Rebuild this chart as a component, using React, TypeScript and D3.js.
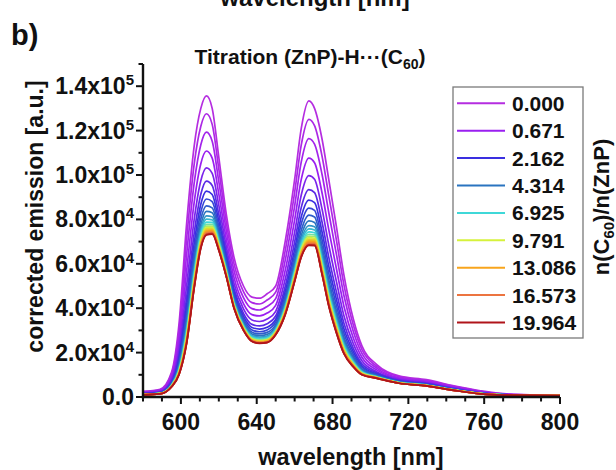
import React from "react";
import * as d3 from "d3";

// wavelength grid (nm)
const wavelengths = [580, 589, 595, 599, 603, 607, 610.5, 613.5, 616.5, 620, 624, 628, 633, 637.5, 641.5, 645.5, 650, 655, 660, 663.5, 667.5, 670.5, 674.5, 678, 682, 686, 691, 695.5, 703.5, 715, 729.5, 744, 758, 773, 800];

// corrected emission (units of 1e3 a.u.), one spectrum per titration step
const s00 = [2.5, 3.5, 11, 33, 78, 113, 130, 135.6, 130, 108, 82, 63, 50, 45, 44.5, 46.5, 50, 70, 98, 121, 133.4, 130, 116, 98, 77, 55, 35, 23, 14.5, 9.5, 7.8, 5, 2.8, 1.3, 0.8];
const s01 = [2.3, 3.2, 10.2, 30.1, 71.1, 104.9, 122.0, 127.6, 122.8, 102.7, 78.4, 60.1, 47.5, 42.5, 41.9, 43.7, 47.2, 65.8, 92.2, 113.6, 125.1, 122.2, 108.3, 90.8, 70.9, 50.5, 32.3, 21.4, 13.7, 9.1, 7.4, 4.8, 2.6, 1.2, 0.8];
const s02 = [2.1, 3.0, 9.3, 27.0, 63.9, 96.3, 113.6, 119.3, 115.2, 97.0, 74.7, 57.0, 44.8, 39.8, 39.2, 40.8, 44.3, 61.4, 86.0, 105.9, 116.4, 113.9, 100.1, 83.1, 64.5, 45.7, 29.4, 19.6, 12.9, 8.6, 7.1, 4.5, 2.4, 1.2, 0.8];
const s03 = [1.9, 2.7, 8.4, 23.9, 56.6, 87.7, 105.1, 110.8, 107.6, 91.4, 70.9, 53.9, 42.1, 37.1, 36.5, 37.8, 41.3, 56.9, 79.8, 98.0, 107.6, 105.5, 91.8, 75.4, 58.0, 40.9, 26.5, 17.9, 12.1, 8.2, 6.7, 4.2, 2.3, 1.1, 0.7];
const s04 = [1.7, 2.4, 7.6, 21.1, 50.1, 79.9, 97.4, 103.2, 100.7, 86.3, 67.5, 51.1, 39.7, 34.7, 34.0, 35.1, 38.6, 52.9, 74.2, 91.0, 99.7, 98.1, 84.5, 68.5, 52.2, 36.6, 23.9, 16.3, 11.3, 7.8, 6.4, 4.0, 2.1, 1.0, 0.7];
const s05 = [1.6, 2.2, 7.0, 18.9, 44.8, 73.7, 91.3, 97.2, 95.3, 82.2, 64.8, 48.9, 37.7, 32.7, 32.0, 33.0, 36.5, 49.7, 69.8, 85.4, 93.4, 92.1, 78.6, 63.0, 47.5, 33.2, 21.8, 15.0, 10.8, 7.5, 6.1, 3.8, 1.9, 1.0, 0.7];
const s06 = [1.5, 2.1, 6.5, 17.2, 41.0, 69.1, 86.8, 92.7, 91.2, 79.2, 62.8, 47.2, 36.3, 31.3, 30.6, 31.4, 34.9, 47.4, 66.4, 81.2, 88.7, 87.6, 74.2, 58.9, 44.1, 30.7, 20.3, 14.1, 10.3, 7.2, 5.9, 3.6, 1.8, 1.0, 0.7];
const s07 = [1.4, 1.9, 6.2, 15.9, 37.9, 65.5, 83.3, 89.2, 88.0, 76.8, 61.2, 45.9, 35.2, 30.2, 29.4, 30.2, 33.7, 45.5, 63.9, 78.0, 85.1, 84.1, 70.7, 55.7, 41.4, 28.7, 19.1, 13.4, 10.0, 7.1, 5.7, 3.5, 1.8, 0.9, 0.7];
const s08 = [1.3, 1.8, 5.9, 14.8, 35.3, 62.4, 80.2, 86.1, 85.2, 74.8, 59.9, 44.8, 34.2, 29.2, 28.4, 29.1, 32.6, 43.9, 61.6, 75.1, 81.9, 81.1, 67.8, 52.9, 39.0, 26.9, 18.0, 12.7, 9.7, 6.9, 5.6, 3.4, 1.7, 0.9, 0.6];
const s09 = [1.3, 1.8, 5.6, 13.9, 33.1, 59.8, 77.6, 83.6, 83.0, 73.1, 58.7, 43.9, 33.4, 28.4, 27.6, 28.2, 31.7, 42.6, 59.8, 72.8, 79.3, 78.6, 65.3, 50.6, 37.1, 25.5, 17.1, 12.2, 9.4, 6.8, 5.5, 3.3, 1.6, 0.9, 0.6];
const s10 = [1.2, 1.7, 5.4, 13.2, 31.4, 57.8, 75.6, 81.6, 81.2, 71.8, 57.8, 43.2, 32.7, 27.7, 27.0, 27.5, 31.0, 41.5, 58.3, 71.0, 77.2, 76.7, 63.4, 48.8, 35.6, 24.4, 16.5, 11.8, 9.2, 6.7, 5.4, 3.3, 1.6, 0.9, 0.6];
const s11 = [1.2, 1.6, 5.2, 12.6, 30.1, 56.2, 74.1, 80.1, 79.8, 70.7, 57.2, 42.6, 32.3, 27.3, 26.5, 27.0, 30.5, 40.7, 57.2, 69.6, 75.7, 75.2, 61.9, 47.4, 34.4, 23.5, 15.9, 11.5, 9.1, 6.6, 5.3, 3.2, 1.6, 0.9, 0.6];
const s12 = [1.1, 1.6, 5.1, 12.1, 29.0, 55.0, 72.9, 78.8, 78.7, 69.9, 56.6, 42.1, 31.9, 26.9, 26.1, 26.6, 30.1, 40.1, 56.3, 68.4, 74.4, 74.0, 60.7, 46.3, 33.5, 22.8, 15.5, 11.2, 9.0, 6.5, 5.3, 3.2, 1.5, 0.9, 0.6];
const s13 = [1.1, 1.6, 5.0, 11.8, 28.2, 53.9, 71.9, 77.8, 77.8, 69.2, 56.2, 41.8, 31.5, 26.5, 25.8, 26.2, 29.7, 39.5, 55.5, 67.5, 73.3, 73.0, 59.7, 45.4, 32.7, 22.2, 15.2, 11.0, 8.9, 6.5, 5.2, 3.2, 1.5, 0.8, 0.6];
const s14 = [1.1, 1.5, 4.9, 11.5, 27.5, 53.1, 71.0, 77.0, 77.0, 68.7, 55.8, 41.5, 31.3, 26.3, 25.5, 25.9, 29.4, 39.1, 54.9, 66.7, 72.5, 72.2, 58.9, 44.6, 32.1, 21.8, 14.9, 10.8, 8.8, 6.4, 5.2, 3.1, 1.5, 0.8, 0.6];
const s15 = [1.1, 1.5, 4.8, 11.2, 26.9, 52.4, 70.3, 76.3, 76.4, 68.2, 55.5, 41.2, 31.1, 26.1, 25.3, 25.7, 29.2, 38.8, 54.4, 66.1, 71.8, 71.5, 58.2, 44.0, 31.5, 21.4, 14.6, 10.7, 8.7, 6.4, 5.1, 3.1, 1.5, 0.8, 0.6];
const s16 = [1.1, 1.5, 4.8, 11.0, 26.3, 51.8, 69.7, 75.7, 75.8, 67.8, 55.2, 41.0, 30.9, 25.9, 25.1, 25.5, 29.0, 38.4, 54.0, 65.5, 71.1, 70.9, 57.6, 43.5, 31.1, 21.0, 14.4, 10.6, 8.7, 6.3, 5.1, 3.1, 1.5, 0.8, 0.6];
const s17 = [1.1, 1.5, 4.7, 10.8, 25.9, 51.2, 69.2, 75.2, 75.4, 67.5, 55.0, 40.8, 30.7, 25.7, 24.9, 25.3, 28.8, 38.2, 53.6, 65.0, 70.6, 70.4, 57.1, 43.0, 30.7, 20.7, 14.3, 10.5, 8.6, 6.3, 5.1, 3.1, 1.5, 0.8, 0.6];
const s18 = [1.0, 1.5, 4.7, 10.6, 25.5, 50.7, 68.7, 74.7, 74.9, 67.1, 54.8, 40.6, 30.5, 25.5, 24.8, 25.1, 28.6, 37.9, 53.2, 64.6, 70.1, 69.9, 56.7, 42.5, 30.3, 20.5, 14.1, 10.4, 8.6, 6.3, 5.1, 3.1, 1.4, 0.8, 0.6];
const s19 = [1.0, 1.4, 4.6, 10.5, 25.1, 50.3, 68.3, 74.3, 74.6, 66.9, 54.6, 40.5, 30.4, 25.4, 24.6, 25.0, 28.5, 37.7, 53.0, 64.2, 69.7, 69.5, 56.3, 42.2, 30.0, 20.3, 14.0, 10.3, 8.5, 6.3, 5.1, 3.0, 1.4, 0.8, 0.6];
const s20 = [1.0, 1.4, 4.6, 10.4, 24.9, 50.0, 68.0, 74.0, 74.3, 66.7, 54.4, 40.4, 30.3, 25.3, 24.5, 24.9, 28.4, 37.5, 52.7, 63.9, 69.3, 69.2, 56.0, 41.9, 29.8, 20.1, 13.8, 10.2, 8.5, 6.3, 5.0, 3.0, 1.4, 0.8, 0.6];
const s21 = [1.0, 1.4, 4.6, 10.3, 24.6, 49.7, 67.7, 73.7, 74.0, 66.5, 54.3, 40.3, 30.2, 25.2, 24.4, 24.7, 28.2, 37.4, 52.5, 63.6, 69.0, 68.9, 55.7, 41.6, 29.5, 19.9, 13.7, 10.1, 8.5, 6.2, 5.0, 3.0, 1.4, 0.8, 0.6];
const s22 = [1.0, 1.4, 4.5, 10.1, 24.3, 49.4, 67.4, 73.4, 73.7, 66.3, 54.2, 40.1, 30.1, 25.1, 24.3, 24.6, 28.1, 37.2, 52.3, 63.3, 68.7, 68.6, 55.4, 41.3, 29.3, 19.7, 13.6, 10.1, 8.4, 6.2, 5.0, 3.0, 1.4, 0.8, 0.6];
const s23 = [1.0, 1.4, 4.5, 10.1, 24.2, 49.2, 67.2, 73.2, 73.6, 66.1, 54.1, 40.1, 30.1, 25.1, 24.3, 24.6, 28.1, 37.1, 52.1, 63.2, 68.5, 68.4, 55.2, 41.2, 29.1, 19.6, 13.6, 10.0, 8.4, 6.2, 5.0, 3.0, 1.4, 0.8, 0.6];
const s24 = [1.0, 1.4, 4.5, 10.0, 24.0, 49.0, 67.0, 73.0, 73.4, 66.0, 54.0, 40.0, 30.0, 25.0, 24.2, 24.5, 28.0, 37.0, 52.0, 63.0, 68.3, 68.2, 55.0, 41.0, 29.0, 19.5, 13.5, 10.0, 8.4, 6.2, 5.0, 3.0, 1.4, 0.8, 0.6];

const spectra = [s00, s01, s02, s03, s04, s05, s06, s07, s08, s09, s10, s11, s12, s13, s14, s15, s16, s17, s18, s19, s20, s21, s22, s23, s24];

// legend: n(C60)/n(ZnP) ratios and the spectrum each entry refers to
const legendLabels = ["0.000", "0.671", "2.162", "4.314", "6.925", "9.791", "13.086", "16.573", "19.964"];
const legendSeries = [0, 3, 6, 9, 12, 15, 18, 21, 24];
const legendColors = ["#b52de0", "#9a1ff0", "#3a2fe0", "#2a74c0", "#3fd8d8", "#d6f23c", "#f8a51c", "#ec7440", "#b0141a"];

const xTicks = [600, 640, 680, 720, 760, 800];
const yTicks = [0, 20000, 40000, 60000, 80000, 100000, 120000, 140000];

const FONT = "'Liberation Sans', Arial, Helvetica, sans-serif";

export default function App() {
  const x = d3.scaleLinear().domain([580, 800]).range([143, 560]);
  const y = d3.scaleLinear().domain([0, 150000]).range([397, 64]);
  const color = d3
    .scaleLinear<string>()
    .domain(legendSeries)
    .range(legendColors)
    .interpolate(d3.interpolateRgb);

  const line = d3
    .line<number>()
    .x((_, i) => x(wavelengths[i]))
    .y((d) => y(d * 1000))
    .curve(d3.curveMonotoneX);

  const xMinor = d3.range(580, 801, 10);
  const yMinor = d3.range(0, 150001, 10000);

  const fmt = (v: number) => {
    if (v === 0) return { m: "0.0", e: null as null | number };
    const e = Math.floor(Math.log10(v));
    return { m: (v / Math.pow(10, e)).toFixed(1), e };
  };

  const legendTop = 103.3;
  const legendStep = 27.4;

  return (
    <svg
      width={616}
      height={470}
      style={{ position: "absolute", left: 0, top: 0, background: "#fff" }}
      fontFamily={FONT}
      fontWeight="bold"
    >
      <rect x={0} y={0} width={616} height={470} fill="#fff" />
      <defs>
        <clipPath id="plotclip">
          <rect x={143} y={60} width={420} height={338} />
        </clipPath>
      </defs>

      {/* cut-off label of the panel above */}
      <text x={315} y={5.5} fontSize={24} textAnchor="middle" fill="#111">
        wavelength [nm]
      </text>

      <text x={11} y={45} fontSize={29} fill="#111">
        b)
      </text>

      <text x={310} y={64} fontSize={21} textAnchor="middle" fill="#111">
        Titration (ZnP)-H···(C
        <tspan fontSize={14} dy={5}>60</tspan>
        <tspan dy={-5}>)</tspan>
      </text>

      {/* spectra */}
      <g clipPath="url(#plotclip)">
        {spectra.map((s, i) => (
          <path key={i} d={line(s) || ""} fill="none" stroke={color(i)} strokeWidth={1.7} strokeLinejoin="round" />
        ))}
      </g>

      {/* axes */}
      <g stroke="#111" strokeWidth={2.4} fill="none">
        <line x1={143} y1={64} x2={143} y2={398.2} />
        <line x1={141.8} y1={397} x2={560} y2={397} />
        {xMinor.map((v) => (
          <line key={"xm" + v} x1={x(v)} x2={x(v)} y1={397} y2={v % 40 === 0 ? 404 : 401.5} strokeWidth={2} />
        ))}
        {yMinor.map((v) => (
          <line key={"ym" + v} x1={143} x2={v % 20000 === 0 ? 136 : 138.5} y1={y(v)} y2={y(v)} strokeWidth={2} />
        ))}
      </g>

      {xTicks.map((v) => (
        <text key={"xt" + v} x={x(v)} y={430} fontSize={23} textAnchor="middle" fill="#111">
          {v}
        </text>
      ))}

      {yTicks.map((v) => {
        const f = fmt(v);
        return (
          <text key={"yt" + v} x={134} y={y(v) + 8} fontSize={23} textAnchor="end" fill="#111">
            {f.e === null ? (
              f.m
            ) : (
              <>
                {f.m + "x10"}
                <tspan fontSize={15} dy={-9}>{f.e}</tspan>
              </>
            )}
          </text>
        );
      })}

      <text x={351} y={465} fontSize={23.5} textAnchor="middle" fill="#111">
        wavelength [nm]
      </text>

      <text transform="translate(42.5,216.5) rotate(-90)" fontSize={23} textAnchor="middle" fill="#111">
        corrected emission [a.u.]
      </text>

      <text transform="translate(609,207) rotate(-90)" fontSize={22} textAnchor="middle" fill="#111">
        n(C<tspan fontSize={15} dy={5}>60</tspan>
        <tspan dy={-5}>)/n(ZnP)</tspan>
      </text>

      {/* legend */}
      <rect x={453} y={87} width={130} height={251} fill="#fff" stroke="#7a7a7a" strokeWidth={1.3} />
      {legendLabels.map((lab, i) => {
        const cy = legendTop + i * legendStep;
        return (
          <g key={lab}>
            <line x1={457} x2={505} y1={cy} y2={cy} stroke={color(legendSeries[i])} strokeWidth={2} />
            <text x={512} y={cy + 7.5} fontSize={21} fill="#111">
              {lab}
            </text>
          </g>
        );
      })}
    </svg>
  );
}
